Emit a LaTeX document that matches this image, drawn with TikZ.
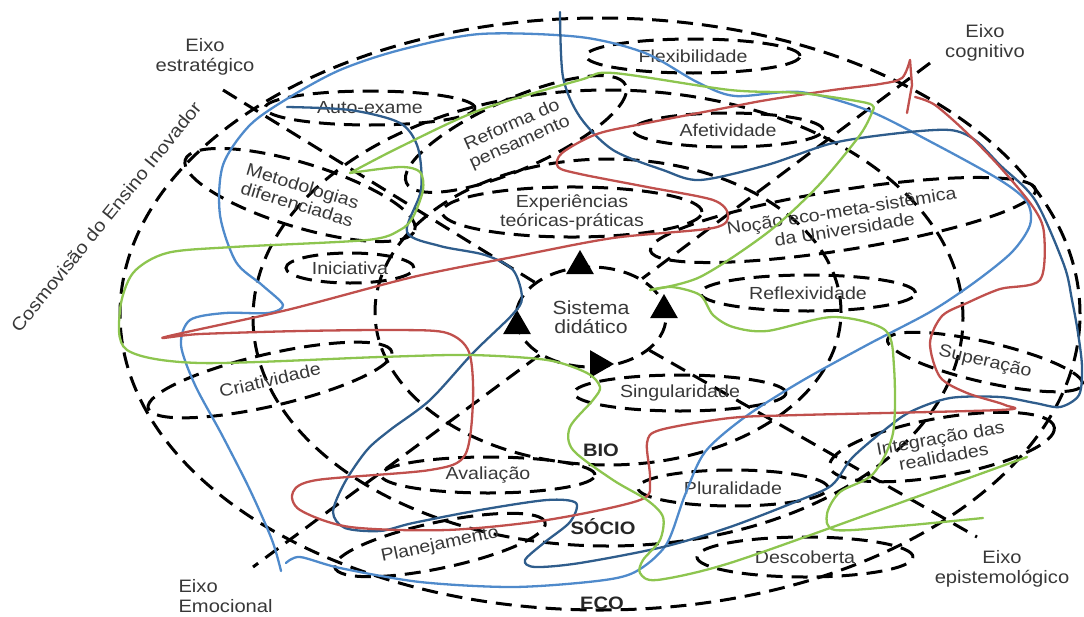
\documentclass[tikz,border=0pt]{standalone}
\usepackage{fontspec}
\setmainfont[FakeStretch=1.12]{Liberation Sans}
\usetikzlibrary{shapes.geometric}
\definecolor{texto}{HTML}{383838}
\definecolor{azulclaro}{HTML}{4F8ACB}
\definecolor{azulescuro}{HTML}{2F5D8C}
\definecolor{vermelho}{HTML}{C0504D}
\definecolor{verde}{HTML}{8DC54F}
\tikzset{
    %tracejado comum
    tracejado/.style={draw=black, line width=3pt, dash pattern=on 16pt off 9pt},
    anel/.style={tracejado},
    eixo/.style={tracejado},
    %caixas dos conceitos
    caixa/.style={
        ellipse,
        tracejado,
        inner sep=0pt,
        text=texto,
        align=center,
        font=\fontsize{17.5}{19}\selectfont},
    rotulo/.style={text=texto, align=center, font=\fontsize{18}{19.5}\selectfont},
    nivel/.style={text=black!85, font=\fontsize{18}{19.5}\selectfont\bfseries},
    seta/.style={
        isosceles triangle,
        isosceles triangle apex angle=60,
        fill=black,
        inner sep=0pt,
        minimum size=24pt},
    traco/.style={line width=2.3pt, line cap=round, line join=round}
}

\begin{document}
\begin{tikzpicture}[x=1pt, y=-1pt]
\useasboundingbox (0,0) rectangle (1084,616);

% aneis ECO, SOCIO, BIO
\draw[anel] (600,314) ellipse [x radius=480pt, y radius=296pt];
\draw[anel] (608,318) ellipse [x radius=355pt, y radius=228pt];
\draw[anel] (608,312) ellipse [x radius=233pt, y radius=153pt];

% sistema didatico
\node[caixa, minimum width=150pt, minimum height=100pt, font=\fontsize{19}{18.5}\selectfont] (sis) at (591,317) {Sistema\\didático};
\node[seta, rotate=90] (s1) at (580,266) {};
\node[seta, rotate=90] (s2) at (664,310) {};
\node[seta, rotate=90] (s3) at (517,326) {};
\node[seta] (s4) at (598,364) {};

% eixos
\coordinate (estr) at (223,90);
\coordinate (epis) at (977,537);
\coordinate (cogn) at (930,63);
\coordinate (emoc) at (253,567);
\draw[eixo] (estr) -- (sis);
\draw[eixo] (sis) -- (epis);
\draw[eixo] (cogn) -- (sis);
\draw[eixo] (sis) -- (emoc);

\node[rotulo] (lestr) at (205,57) {Eixo\\estratégico};
\node[rotulo] (lcogn) at (985,43) {Eixo\\cognitivo};
\node[rotulo, align=left, anchor=west] (lemoc) at (175,596) {Eixo\\Emocional};
\node[rotulo] (lepis) at (1002,569) {Eixo\\epistemológico};
\node[rotulo, rotate=51, font=\fontsize{18}{20}\selectfont] (cosmo) at (106,217) {Cosmovisão do Ensino Inovador};

\node[nivel] (bio) at (601,450) {BIO};
\node[nivel] (socio) at (603,527) {SÓCIO};
\node[nivel] (eco) at (602,603) {ECO};

% conceitos
\node[caixa, minimum width=214pt, minimum height=34pt] (flex) at (693,56) {Flexibilidade};
\node[caixa, minimum width=210pt, minimum height=34pt] (auto) at (370,108) {Auto-exame};
\node[caixa, rotate=24, minimum width=240pt, minimum height=70pt] (refo) at (516,134) {Reforma do\\pensamento};
\node[caixa, minimum width=190pt, minimum height=34pt] (afet) at (728,130) {Afetividade};
\node[caixa, rotate=-17, minimum width=240pt, minimum height=64pt] (meto) at (300,195) {Metodologias\\diferenciadas};
\node[caixa, minimum width=260pt, minimum height=46pt] (expe) at (572,212) {Experiências\\teóricas-práticas};
\node[caixa, rotate=9, minimum width=390pt, minimum height=60pt] (noca) at (843,220) {Noção eco-meta-sistêmica\\da Universidade};
\node[caixa, minimum width=128pt, minimum height=30pt] (inic) at (350,268) {Iniciativa};
\node[caixa, minimum width=215pt, minimum height=36pt] (refl) at (808,293) {Reflexividade};
\node[caixa, rotate=13, minimum width=250pt, minimum height=52pt] (cria) at (270,380) {Criatividade};
\node[caixa, minimum width=212pt, minimum height=36pt] (sing) at (680,393) {Singularidade};
\node[caixa, rotate=-13, minimum width=200pt, minimum height=40pt] (supe) at (985,362) {Superação};
\node[caixa, rotate=10, minimum width=228pt, minimum height=58pt] (inte) at (942,447) {Integração das\\realidades};
\node[caixa, minimum width=214pt, minimum height=36pt] (aval) at (488,475) {Avaliação};
\node[caixa, minimum width=190pt, minimum height=36pt] (plur) at (733,488) {Pluralidade};
\node[caixa, rotate=12, minimum width=215pt, minimum height=46pt] (plan) at (440,545) {Planejamento};
\node[caixa, minimum width=216pt, minimum height=40pt] (desc) at (805,557) {Descoberta};

% linhas livres
\draw[traco, azulclaro] plot[smooth] coordinates {(281,571) (272,540) (250,490) (222,435) (195,385) (181,345) (190,320) (225,313) (268,313) (283,305) (262,285) (236,262) (220,215) (223,165) (250,125) (290,97) (340,70) (400,50) (480,34) (580,37) (645,53) (697,82) (735,96) (800,92) (867,110) (933,143) (1000,180) (1027,202) (1030,225) (1012,252) (975,282) (930,312) (867,345) (800,382) (745,417) (705,452) (685,495) (666,545) (635,572) (597,581) (513,587) (420,582) (340,568) (300,557) (286,563)};
\draw[traco, azulescuro] plot[smooth] coordinates {(287,107) (350,110) (400,123) (418,148) (421,190) (407,232) (440,246) (485,255) (513,270) (522,298) (512,315) (473,353) (430,400) (390,430) (367,450) (345,482) (333,512) (345,528) (380,531) (413,523) (480,510) (547,500) (576,503) (570,522) (545,542) (525,560) (535,567) (580,563) (663,547) (730,527) (800,500) (832,485) (852,458) (882,432) (910,412) (950,398) (1000,397) (1035,403) (1060,407) (1079,395) (1082,367) (1078,333) (1072,300) (1064,265) (1035,200) (1000,165) (975,140) (950,130) (900,133) (833,143) (767,165) (700,180) (663,170) (613,150) (580,117) (563,77) (560,12)};
\draw[traco, vermelho] plot[smooth] coordinates {(910,60) (902,78) (880,84) (833,90) (767,100) (730,107) (647,123) (597,134) (562,153) (558,167) (580,174) (647,187) (713,200) (728,215) (713,228) (613,238) (513,257) (413,277) (287,310) (165,337) (200,334) (300,331) (400,330) (447,333) (469,352) (473,400) (465,455) (430,470) (317,480) (293,492) (300,510) (350,527) (447,530) (547,520) (640,500) (650,480) (647,443) (660,430) (730,418) (800,415) (1000,410) (1005,405) (967,393) (940,377) (930,343) (942,316) (967,303) (1000,289) (1040,280) (1044,233) (1033,207) (1000,167) (967,133) (935,105) (915,97)};
\draw[traco, vermelho] (910,60) -- (912,85) -- (907,113);
\draw[traco, verde] plot[smooth] coordinates {(983,518) (900,526) (835,530) (827,514) (840,492) (873,474) (893,433) (894,367) (885,330) (833,317) (767,331) (733,327) (713,315) (700,295) (672,287) (650,290)};
\draw[traco, verde] plot[smooth] coordinates {(650,290) (700,277) (767,233) (817,187) (860,135) (873,110)};
\draw[traco, verde] plot[smooth] coordinates {(873,110) (867,103) (800,93) (730,90) (613,73) (580,80) (480,110) (400,147) (350,173)};
\draw[traco, verde] plot[smooth] coordinates {(350,173) (400,167) (420,172) (423,190) (413,217) (400,230) (367,240) (233,247) (167,253) (133,273) (120,310) (127,350) (200,363) (380,357) (470,355) (547,360) (587,373) (600,387) (593,400) (570,427) (573,450) (613,480) (647,500) (663,517) (660,540) (643,560) (640,573) (657,580) (730,563) (880,510) (1027,457)};
\end{tikzpicture}
\end{document}
